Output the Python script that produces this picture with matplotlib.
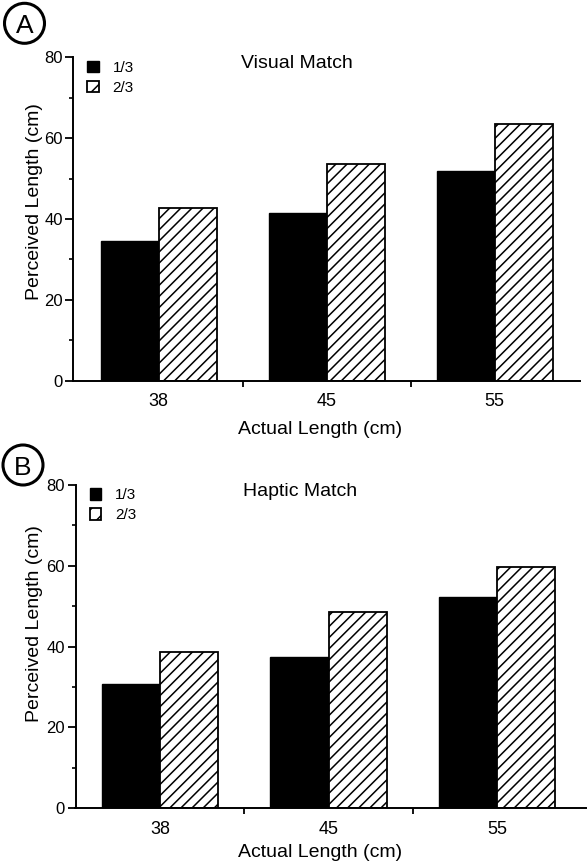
import numpy as np
import matplotlib
matplotlib.use("Agg")
import matplotlib.pyplot as plt
from matplotlib.patches import Patch, Ellipse

plt.rcParams['font.family'] = ['Liberation Sans', 'DejaVu Sans']
plt.rcParams['hatch.linewidth'] = 1.1

categories = ['38', '45', '55']
visual_13 = [34.6, 41.4, 51.9]
visual_23 = [42.8, 53.7, 63.4]
haptic_13 = [30.7, 37.4, 52.2]
haptic_23 = [38.7, 48.6, 59.8]
series_labels = ['1/3', '2/3']
titles = ['Visual Match', 'Haptic Match']
panel_letters = ['A', 'B']
yticks = [0, 20, 40, 60, 80]
xlabel = 'Actual Length (cm)'
ylabel = 'Perceived Length (cm)'

W, H = 587, 866
fig = plt.figure(figsize=(W / 100, H / 100), dpi=100)

# axes rectangles in pixels: left, right, bottom(y px), top(y px)
rects = [(73.3, 580.0, 380.7, 57.3), (75.5, 586.0, 808.3, 485.0)]
xlims = [(-0.508, 2.508), (-0.501, 2.527)]
data = [(visual_13, visual_23), (haptic_13, haptic_23)]
title_pos = [(0.441, 0.982), (0.439, 0.979)]
ylabel_pos = [(-0.0756, 0.553), (-0.0795, 0.57)]
xlabel_pos = [(0.487, -0.152), (0.480, -0.137)]
circle_centers = [(24.5, 23.3), (23.0, 465.0)]

w = 0.345
x = np.arange(len(categories))

for i in range(2):
    l, r, b, t = rects[i]
    ax = fig.add_axes([l / W, 1 - b / H, (r - l) / W, (b - t) / H])
    s13, s23 = data[i]
    ax.bar(x - w / 2, s13, width=w, color='black', edgecolor='black', linewidth=1.0)
    ax.bar(x + w / 2, s23, width=w, color='white', edgecolor='black', linewidth=1.3, hatch='///')
    ax.set_xlim(*xlims[i])
    ax.set_ylim(0, 80)
    for sp in ['top', 'right']:
        ax.spines[sp].set_visible(False)
    for sp in ['left', 'bottom']:
        ax.spines[sp].set_linewidth(1.4)
    ax.set_yticks(yticks)
    ax.set_yticks([10, 30, 50, 70], minor=True)
    ax.set_xticks(x)
    ax.set_xticklabels(categories, fontsize=13)
    ax.set_xticks([0.5, 1.5], minor=True)
    ax.tick_params(axis='x', which='major', length=0, pad=9)
    ax.tick_params(axis='x', which='minor', length=4, width=1.3, direction='out')
    ax.tick_params(axis='y', which='major', length=5.5, width=1.3, labelsize=12, pad=2)
    ax.tick_params(axis='y', which='minor', length=3, width=1.2)
    ax.set_ylabel(ylabel, fontsize=14)
    ax.yaxis.label.set_va('center')
    ax.yaxis.set_label_coords(*ylabel_pos[i])
    ax.set_xlabel(xlabel, fontsize=14)
    ax.xaxis.label.set_va('center')
    ax.xaxis.set_label_coords(*xlabel_pos[i])
    ax.text(title_pos[i][0], title_pos[i][1], titles[i], transform=ax.transAxes,
            ha='center', va='center', fontsize=14)
    handles = [Patch(facecolor='black', edgecolor='black'),
               Patch(facecolor='white', edgecolor='black', hatch='//', linewidth=1.3)]
    ax.legend(handles, series_labels, loc='upper left', bbox_to_anchor=(0.028, 0.99),
              frameon=False, handlelength=0.75, handleheight=0.75, fontsize=11,
              handletextpad=0.9, labelspacing=0.4, borderpad=0, borderaxespad=0)
    cx, cy = circle_centers[i]
    fig.patches.append(Ellipse((cx / W, 1 - cy / H), 40 / W, 40 / H, fill=False,
                               edgecolor='black', linewidth=2.2, transform=fig.transFigure))
    fig.text(cx / W, 1 - cy / H, panel_letters[i], ha='center', va='center_baseline',
             fontsize=19)

fig.savefig('out.png', dpi=100)
